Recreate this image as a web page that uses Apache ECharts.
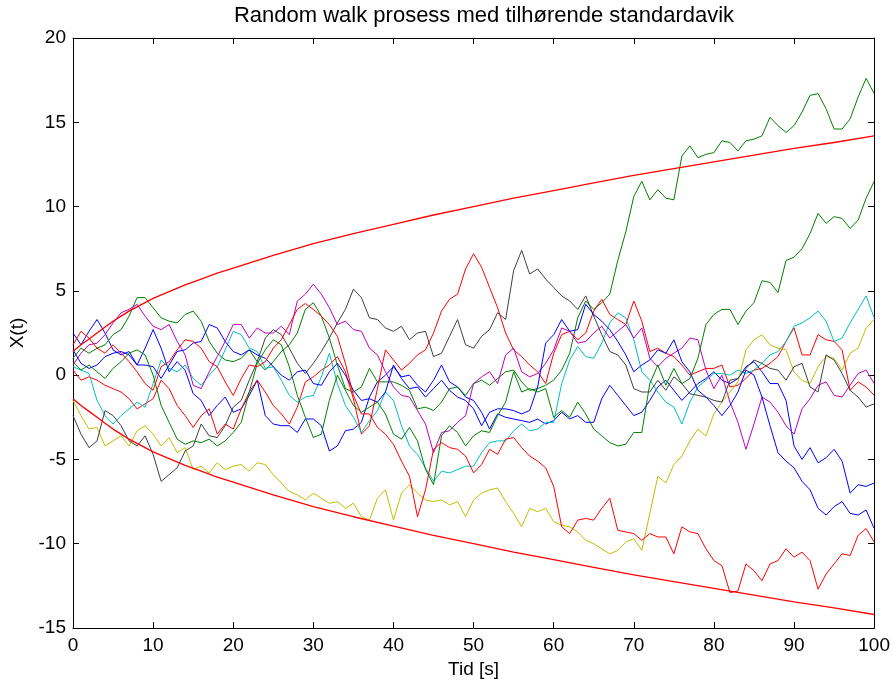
<!DOCTYPE html>
<html>
<head>
<meta charset="utf-8">
<script src="https://cdn.jsdelivr.net/npm/echarts@6/dist/echarts.min.js"></script>
<style>
  html, body { margin: 0; padding: 0; background: #fff; }
  #chart { width: 893px; height: 684px; }
</style>
</head>
<body>
<div id="chart"></div>
<script>
// Sample times of the random walks [s]
const time = Array.from({ length: 101 }, (_, i) => i);

// Ten realisations of the random walk, one value per second
const walkBlue1 = [2.5,1.8,2.6,3.3,2.5,1.5,1.2,1.4,0.6,1.6,
  2.7,1.6,0.2,0.8,0.3,-1.1,-1.5,-2.4,-1.8,-1.3,
  -2.2,-2.0,-1.2,-0.3,-2.4,-2.9,-3.0,-3.0,-3.4,-2.6,
  -2.6,-3.0,-4.5,-4.2,-3.3,-3.2,-2.8,-1.3,-0.4,0.0,
  0.5,-0.1,0.0,-0.6,-1.0,-0.3,0.6,-0.4,-0.7,-1.3,
  -1.5,-2.2,-3.2,-2.3,-2.5,-2.6,-2.7,-2.8,-2.6,-2.9,
  -2.7,-2.2,-2.6,-2.4,-2.8,-2.8,-1.4,-0.6,-1.2,-1.8,
  -2.4,-2.2,-1.5,-0.7,-0.3,-0.9,-1.5,-1.0,-0.5,-0.2,
  0.2,-0.3,-0.5,-0.2,0.5,0.8,0.2,-0.5,-0.5,-1.5,
  -4.2,-5.0,-4.3,-5.2,-4.9,-4.4,-5.1,-7.0,-6.5,-6.6,
  -6.4];
const walkGreen1 = [1.0,1.6,1.3,1.6,1.8,2.4,2.7,3.5,4.6,4.6,
  4.0,3.4,3.2,3.1,3.6,3.8,3.2,2.0,1.3,0.9,
  0.8,1.0,1.5,0.8,0.3,0.8,1.4,1.8,2.5,3.9,
  4.3,3.5,2.2,0.6,-0.8,-1.0,-0.7,0.4,-0.4,-0.4,
  -0.4,-0.6,-0.9,-2.0,-1.9,-2.1,-1.6,-0.8,-0.7,-1.2,
  -0.5,-0.3,-0.6,-0.2,0.2,0.3,-0.4,-0.9,-0.8,-0.6,
  -0.3,0.3,1.3,3.4,4.4,3.9,4.3,4.8,6.8,8.5,
  10.6,11.5,10.4,11.0,10.5,10.4,13.0,13.6,12.9,13.1,
  13.2,13.9,13.8,13.3,13.9,14.0,14.2,15.3,14.8,14.4,
  14.8,15.6,16.6,16.7,15.8,14.6,14.6,15.2,16.5,17.6,
  16.7];
const walkRed1 = [0.3,-0.3,-0.1,-0.3,-0.6,-0.8,-1.0,-1.4,-2.0,-1.7,
  -1.4,-0.3,-0.8,-1.8,-2.4,-3.1,-2.4,-2.0,-3.5,-2.9,
  -3.2,-2.0,-1.0,-0.3,-1.0,-1.8,-2.3,-2.9,-1.9,-0.4,
  -0.1,0.3,0.6,1.1,0.2,-1.4,-3.5,-3.0,-0.8,1.5,
  0.9,0.3,0.7,1.2,1.5,2.5,3.8,4.5,4.8,6.3,
  7.2,6.4,5.2,4.0,2.5,1.5,1.1,0.6,0.2,-0.5,
  1.3,2.4,2.6,2.1,2.5,3.8,4.5,3.6,3.3,3.0,
  4.4,3.2,1.4,1.6,1.3,1.1,0.6,0.0,0.2,0.4,
  0.4,0.6,-0.7,-0.6,-0.2,0.3,0.4,0.7,1.1,2.0,
  2.8,1.2,1.2,2.4,2.1,2.0,1.5,-0.9,-0.4,-0.7,
  -1.2];
const walkCyan = [0.5,0.3,0.1,-1.5,-2.4,-2.9,-2.4,-2.0,-1.6,-1.9,
  -0.5,0.9,0.4,0.2,0.6,-0.2,-0.6,0.0,0.5,1.5,
  2.6,2.4,1.6,1.4,0.4,0.5,-0.3,-1.2,-1.6,-1.3,
  -1.2,-0.1,1.3,-0.5,-1.8,-2.5,-3.4,-2.7,-2.1,-1.0,
  -1.5,-3.0,-4.2,-4.7,-5.5,-6.3,-5.7,-5.8,-5.6,-5.4,
  -5.4,-4.6,-4.0,-3.9,-3.9,-3.3,-2.9,-3.3,-3.2,-2.8,
  -2.8,-0.5,0.9,1.7,1.1,1.0,1.9,3.1,3.7,3.4,
  2.1,0.2,-0.3,-1.0,-1.6,-1.9,-2.9,-1.6,-0.7,-0.3,
  0.1,0.1,0.0,0.3,0.1,0.3,0.7,1.2,1.4,2.0,
  2.9,3.1,3.4,3.8,3.2,2.0,2.2,3.1,3.9,4.7,
  3.4];
const walkMagenta = [0.6,1.3,1.8,1.9,2.4,3.1,3.7,3.9,4.2,3.5,
  2.9,2.7,3.0,2.0,1.2,-0.6,-0.8,0.2,1.1,2.0,
  3.0,3.0,2.2,2.8,2.5,2.5,2.9,2.4,4.4,4.8,
  5.4,4.8,4.0,3.0,3.2,2.7,2.6,1.6,1.2,0.2,
  -0.7,-1.2,-1.3,-2.1,-2.9,-4.6,-3.4,-3.3,-2.8,-2.4,
  -0.5,-0.1,0.2,-0.5,1.2,1.6,0.2,-0.1,0.1,0.7,
  1.5,2.8,2.6,1.9,2.0,2.5,2.9,2.2,2.6,3.0,
  2.2,2.8,1.0,0.5,1.0,1.3,1.6,2.2,2.1,0.3,
  -0.8,0.0,-1.6,-2.8,-4.4,-2.9,-1.3,-1.6,-2.2,-3.0,
  -3.5,-2.0,-1.4,-0.6,-0.4,-1.2,-1.3,-0.6,0.1,0.3,
  -0.5];
const walkYellow = [-1.5,-2.4,-3.2,-3.1,-4.2,-3.9,-3.6,-4.2,-3.3,-3.0,
  -3.5,-4.2,-3.7,-4.6,-4.3,-5.6,-5.4,-5.8,-5.2,-5.6,
  -5.4,-5.3,-5.7,-5.2,-5.3,-5.9,-6.4,-6.9,-7.1,-7.4,
  -7.0,-7.3,-7.6,-7.5,-7.9,-7.6,-8.4,-8.6,-7.3,-6.8,
  -8.6,-7.0,-6.5,-7.0,-7.4,-7.5,-7.4,-7.7,-7.5,-8.4,
  -7.4,-7.0,-6.8,-6.7,-7.5,-8.2,-9.0,-7.9,-8.1,-7.9,
  -8.7,-8.9,-9.0,-9.3,-9.8,-10.0,-10.3,-10.6,-10.4,-9.9,
  -9.7,-10.4,-8.2,-6.0,-6.4,-5.3,-4.8,-3.9,-3.2,-3.6,
  -2.3,-1.6,-1.0,-0.4,1.5,2.1,2.4,1.8,1.6,1.5,
  0.2,-0.3,-0.5,0.5,1.1,1.0,0.3,1.3,1.6,2.8,
  3.3];
const walkGray = [-2.4,-3.5,-4.3,-3.9,-2.1,-2.4,-3.0,-3.9,-4.2,-3.6,
  -4.7,-6.3,-5.9,-5.5,-4.5,-4.2,-2.9,-3.6,-3.7,-3.0,
  -1.9,-1.5,-0.3,0.8,2.2,2.7,2.4,1.6,0.7,0.1,
  0.7,1.4,2.2,3.1,3.9,5.1,4.6,3.4,3.3,2.8,
  2.6,2.9,2.1,2.5,2.6,1.1,1.3,2.3,3.3,1.8,
  1.6,2.3,2.7,3.7,3.3,6.2,7.4,6.0,6.3,5.7,
  5.2,4.7,4.4,3.9,4.7,3.5,2.4,1.4,1.2,0.6,
  -0.8,-1.0,-1.0,-0.3,-0.9,-0.1,-0.5,-1.1,-1.2,-1.3,
  -1.5,-1.6,-0.3,-0.2,0.4,0.9,0.7,0.4,0.3,-0.3,
  0.5,0.7,-0.7,-1.0,1.2,0.9,0.1,-0.9,-1.3,-1.9,
  -1.7];
const walkBlue2 = [1.5,0.7,0.4,0.6,1.1,1.3,1.4,1.2,0.6,0.6,
  0.5,-0.2,0.6,1.4,1.5,1.9,2.0,3.0,2.8,2.0,
  1.4,1.2,1.5,1.2,1.0,0.5,0.0,-0.3,0.2,0.3,
  -0.5,-0.6,0.2,0.7,0.0,-0.9,-1.5,-1.4,-1.6,-1.0,
  0.6,-0.2,-0.8,-0.7,-1.3,-0.8,-0.3,-0.9,-1.3,-1.5,
  -2.0,-3.0,-2.2,-2.0,-2.0,-2.1,-2.3,-2.1,-0.7,1.9,
  2.4,3.3,2.6,2.7,4.2,3.6,3.2,2.7,2.0,1.2,
  0.2,0.6,0.9,1.5,1.3,2.1,0.8,0.2,-0.9,-1.3,
  -1.8,-2.4,-1.8,-1.0,0.3,0.0,-1.3,-3.0,-4.6,-5.1,
  -5.5,-6.3,-6.8,-7.9,-8.3,-7.8,-7.5,-8.2,-8.3,-8.0,
  -9.1];
const walkGreen2 = [0.8,0.3,0.6,0.2,-0.2,0.4,0.8,1.3,1.5,1.2,
  0.0,-1.8,-2.8,-3.8,-4.1,-3.9,-4.0,-3.8,-4.2,-3.9,
  -3.4,-2.8,-1.0,0.7,1.5,2.1,1.8,0.5,-1.2,-2.5,
  -3.7,-3.5,-1.5,0.0,-0.9,-1.8,-2.2,-1.9,-1.6,-2.3,
  -3.5,-3.8,-3.1,-3.9,-5.6,-6.5,-3.6,-3.0,-3.4,-4.2,
  -3.6,-3.3,-3.4,-2.4,-1.6,0.2,-1.0,-0.8,-1.0,-0.8,
  -2.5,-2.1,-2.5,-1.6,-2.3,-3.2,-3.6,-4.0,-4.2,-4.1,
  -3.4,-3.4,-0.5,0.6,-0.6,0.4,-0.5,-0.2,1.0,3.0,
  3.6,3.9,3.9,3.0,3.8,4.3,5.6,5.5,4.9,6.8,
  7.0,7.5,8.4,9.6,9.0,9.4,9.3,8.7,9.2,10.5,
  11.5];
const walkRed2 = [1.8,2.6,2.2,1.6,1.3,1.8,1.3,0.8,0.2,-0.5,
  -0.9,0.5,0.8,1.5,2.1,2.0,1.6,0.8,0.5,-0.4,
  -1.2,-0.2,0.6,0.5,0.8,1.6,2.1,3.0,3.9,4.25,
  3.9,3.5,3.0,2.3,0.7,-1.2,-2.3,-2.3,-3.1,-3.5,
  -4.1,-5.1,-6.0,-8.4,-6.8,-4.4,-4.0,-4.3,-4.4,-4.8,
  -5.8,-5.3,-4.4,-4.7,-3.8,-3.7,-4.3,-4.8,-5.1,-5.5,
  -6.6,-9.0,-9.4,-8.6,-8.5,-8.6,-7.9,-7.3,-9.2,-9.3,
  -9.4,-9.8,-9.4,-9.6,-9.6,-10.6,-9.0,-9.3,-9.4,-10.3,
  -11.0,-11.3,-12.9,-12.8,-11.2,-11.6,-12.2,-11.2,-11.0,-10.3,
  -10.8,-10.5,-11.0,-12.7,-11.8,-11.2,-10.6,-10.7,-9.5,-9.1,
  -9.9];

// Standard deviation envelope
const stdTime  = [0, 1, 2, 3, 4, 5, 6, 7, 8, 10, 12, 14, 16, 18, 20, 25, 30, 35, 40, 45, 50, 55, 60, 65, 70, 75, 80, 85, 90, 95, 100];
const stdUpper = [1.4, 1.8, 2.15, 2.5, 2.85, 3.2, 3.5, 3.8, 4.05, 4.55, 4.95, 5.35, 5.7, 6.05, 6.35, 7.1, 7.8, 8.4, 8.95, 9.5, 10.0, 10.5, 10.95, 11.4, 11.85, 12.25, 12.65, 13.05, 13.45, 13.8, 14.2];
const stdLower = [-1.4, -1.8, -2.15, -2.5, -2.85, -3.2, -3.5, -3.8, -4.05, -4.55, -4.95, -5.35, -5.7, -6.05, -6.35, -7.1, -7.8, -8.4, -8.95, -9.5, -10.0, -10.5, -10.95, -11.4, -11.85, -12.25, -12.65, -13.05, -13.45, -13.8, -14.2];

// Axis ticks
const xTicks = { min: 0, max: 100, interval: 10 };
const yTicks = { min: -15, max: 20, interval: 5 };

const walks = [
  { values: walkBlue1,   color: '#0000ff' },
  { values: walkGreen1,  color: '#008000' },
  { values: walkRed1,    color: '#ff0000' },
  { values: walkCyan,    color: '#00bfbf' },
  { values: walkMagenta, color: '#bf00bf' },
  { values: walkYellow,  color: '#bfbf00' },
  { values: walkGray,    color: '#404040' },
  { values: walkBlue2,   color: '#0000ff' },
  { values: walkGreen2,  color: '#008000' },
  { values: walkRed2,    color: '#ff0000' }
];

const FONT = '"Liberation Sans", Arial, sans-serif';

const series = walks.map(w => ({
  type: 'line',
  data: time.map((t, i) => [t, w.values[i]]),
  showSymbol: false,
  lineStyle: { color: w.color, width: 1 },
  itemStyle: { color: w.color },
  z: 2
}));

[stdUpper, stdLower].forEach(vals => series.push({
  type: 'line',
  data: stdTime.map((t, i) => [t, vals[i]]),
  showSymbol: false,
  lineStyle: { color: '#ff0000', width: 1.3 },
  z: 3
}));

const tickStyle = { inside: true, length: 6, lineStyle: { color: '#000' } };
const lineStyle = { show: true, onZero: false, lineStyle: { color: '#000', width: 1 } };

const chart = echarts.init(document.getElementById('chart'), null, { renderer: 'canvas' });
chart.setOption({
  animation: false,
  backgroundColor: '#ffffff',
  title: {
    text: 'Random walk prosess med tilhørende standardavik',
    left: 479,
    textAlign: 'center',
    top: 0,
    textStyle: { fontFamily: FONT, fontSize: 22, fontWeight: 'normal', color: '#000' }
  },
  grid: { left: 73, right: 15, top: 38, bottom: 56, containLabel: false },
  xAxis: [
    {
      type: 'value', ...xTicks, position: 'bottom',
      name: 'Tid [s]', nameLocation: 'middle', nameGap: 30,
      nameTextStyle: { fontFamily: FONT, fontSize: 19, color: '#000' },
      axisLine: lineStyle, axisTick: tickStyle, splitLine: { show: false },
      axisLabel: { fontFamily: FONT, fontSize: 19, color: '#000', margin: 8 }
    },
    {
      type: 'value', ...xTicks, position: 'top',
      axisLine: lineStyle, axisTick: tickStyle, splitLine: { show: false },
      axisLabel: { show: false }
    }
  ],
  yAxis: [
    {
      type: 'value', ...yTicks, position: 'left',
      name: 'X(t)', nameLocation: 'middle', nameGap: 44, nameRotate: 90,
      nameTextStyle: { fontFamily: FONT, fontSize: 19, color: '#000' },
      axisLine: lineStyle, axisTick: tickStyle, splitLine: { show: false },
      axisLabel: { fontFamily: FONT, fontSize: 19, color: '#000', margin: 7 }
    },
    {
      type: 'value', ...yTicks, position: 'right',
      axisLine: lineStyle, axisTick: tickStyle, splitLine: { show: false },
      axisLabel: { show: false }
    }
  ],
  series: series
});
</script>
</body>
</html>
